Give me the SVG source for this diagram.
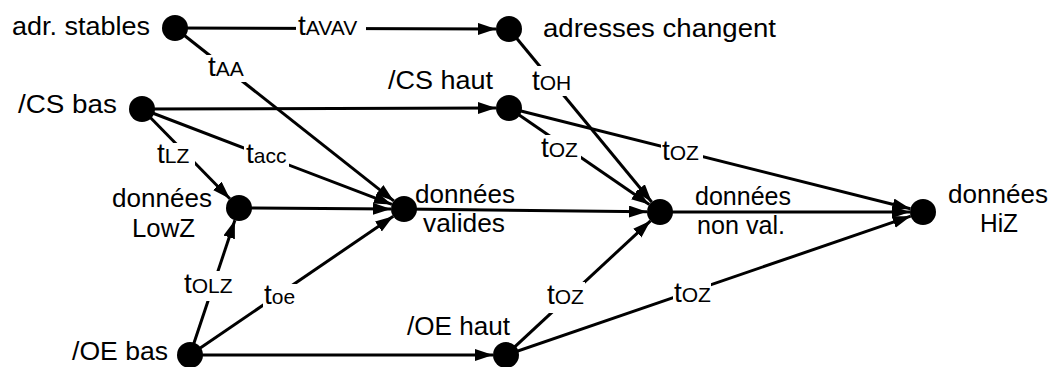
<svg xmlns="http://www.w3.org/2000/svg" width="1055" height="367" viewBox="0 0 1055 367">
<defs>
<marker id="arr" markerUnits="userSpaceOnUse" markerWidth="20" markerHeight="14" refX="18" refY="6" orient="auto">
<path d="M0,0 L18,6 L0,12 z" fill="#000"/>
</marker>
<style>
.c{stroke:#000;stroke-width:3;fill:none;marker-end:url(#arr)}
.n{fill:#000}
.lbl{font-family:"Liberation Sans",Arial,sans-serif;font-size:25px;fill:#000}
.t{font-family:"Liberation Sans",Arial,sans-serif;font-size:28px;fill:#000}
.s{font-size:21px}
.bg{fill:#fff}
</style>
</defs>
<rect width="1055" height="367" fill="#fff"/>
<g id="connectors">
<line class="c" x1="175" y1="28" x2="496" y2="29"/>
<line class="c" x1="175" y1="28" x2="393.8" y2="200.9"/>
<line class="c" x1="142" y1="109" x2="496" y2="108"/>
<line class="c" x1="142" y1="109" x2="229.9" y2="198.7"/>
<line class="c" x1="142" y1="109" x2="391.9" y2="204.4"/>
<line class="c" x1="509" y1="29" x2="651.7" y2="202"/>
<line class="c" x1="509" y1="108" x2="649.3" y2="204.6"/>
<line class="c" x1="509" y1="108" x2="910.4" y2="208.8"/>
<line class="c" x1="239" y1="208" x2="391" y2="209"/>
<line class="c" x1="404" y1="209" x2="647" y2="211.8"/>
<line class="c" x1="660" y1="212" x2="910" y2="212"/>
<line class="c" x1="190" y1="355" x2="234.9" y2="220.3"/>
<line class="c" x1="190" y1="355" x2="393.3" y2="216.3"/>
<line class="c" x1="190" y1="355" x2="493" y2="355"/>
<line class="c" x1="506" y1="355" x2="650.5" y2="220.8"/>
<line class="c" x1="506" y1="355" x2="910.7" y2="216.2"/>
<g id="labels">
<rect class="bg" x="296" y="15" width="70" height="24"/>
<text class="t" x="298" y="35">t<tspan class="s">AVAV</tspan></text>
<rect class="bg" x="206" y="55" width="42" height="27"/>
<text class="t" x="208" y="76">t<tspan class="s">AA</tspan></text>
<rect class="bg" x="531" y="66" width="40" height="30"/>
<text class="t" x="532" y="90">t<tspan class="s">OH</tspan></text>
<rect class="bg" x="155" y="143" width="40" height="24"/>
<text class="t" x="157" y="163">t<tspan class="s">LZ</tspan></text>
<rect class="bg" x="244" y="144" width="45" height="23"/>
<text class="t" x="246" y="163">t<tspan class="s">acc</tspan></text>
<rect class="bg" x="540" y="135" width="41" height="26"/>
<text class="t" x="541" y="157">t<tspan class="s">OZ</tspan></text>
<rect class="bg" x="661" y="139" width="42" height="23"/>
<text class="t" x="662" y="160">t<tspan class="s">OZ</tspan></text>
<rect class="bg" x="183" y="271" width="50" height="30"/>
<text class="t" x="184" y="293">t<tspan class="s">OLZ</tspan></text>
<rect class="bg" x="263" y="284" width="35" height="23"/>
<text class="t" x="264" y="304">t<tspan class="s">oe</tspan></text>
<rect class="bg" x="546" y="282" width="39" height="31"/>
<text class="t" x="547" y="304">t<tspan class="s">OZ</tspan></text>
<rect class="bg" x="673" y="279" width="38" height="25"/>
<text class="t" x="674" y="302">t<tspan class="s">OZ</tspan></text>
</g>
</g>
<g id="adr-stables">
<circle class="n" cx="175" cy="28" r="13"/>
<text class="lbl" x="12" y="35" textLength="138" lengthAdjust="spacingAndGlyphs">adr. stables</text>
</g>
<g id="adresses-changent">
<circle class="n" cx="509" cy="29" r="13"/>
<text class="lbl" x="543" y="37" textLength="233" lengthAdjust="spacingAndGlyphs">adresses changent</text>
</g>
<g id="cs-bas">
<circle class="n" cx="142" cy="109" r="13"/>
<text class="lbl" x="18" y="113" textLength="99" lengthAdjust="spacingAndGlyphs">/CS bas</text>
</g>
<g id="cs-haut">
<circle class="n" cx="509" cy="108" r="13"/>
<text class="lbl" x="388" y="89" textLength="105" lengthAdjust="spacingAndGlyphs">/CS haut</text>
</g>
<g id="donnees-lowz">
<circle class="n" cx="239" cy="208" r="13"/>
<text class="lbl" x="112" y="207" textLength="100" lengthAdjust="spacingAndGlyphs">données</text>
<text class="lbl" x="132" y="237" textLength="63" lengthAdjust="spacingAndGlyphs">LowZ</text>
</g>
<g id="donnees-valides">
<circle class="n" cx="404" cy="209" r="13"/>
<text class="lbl" x="415" y="203" textLength="100" lengthAdjust="spacingAndGlyphs">données</text>
<text class="lbl" x="423" y="232" textLength="82" lengthAdjust="spacingAndGlyphs">valides</text>
</g>
<g id="donnees-non-val">
<circle class="n" cx="660" cy="212" r="13"/>
<text class="lbl" x="695" y="205" textLength="96" lengthAdjust="spacingAndGlyphs">données</text>
<text class="lbl" x="697" y="234" textLength="88" lengthAdjust="spacingAndGlyphs">non val.</text>
</g>
<g id="donnees-hiz">
<circle class="n" cx="923" cy="212" r="13"/>
<text class="lbl" x="948" y="203" textLength="100" lengthAdjust="spacingAndGlyphs">données</text>
<text class="lbl" x="980" y="232" textLength="38" lengthAdjust="spacingAndGlyphs">HiZ</text>
</g>
<g id="oe-bas">
<circle class="n" cx="190" cy="355" r="13"/>
<text class="lbl" x="72" y="360" textLength="96" lengthAdjust="spacingAndGlyphs">/OE bas</text>
</g>
<g id="oe-haut">
<circle class="n" cx="506" cy="355" r="13"/>
<text class="lbl" x="407" y="335" textLength="103" lengthAdjust="spacingAndGlyphs">/OE haut</text>
</g>
</svg>
